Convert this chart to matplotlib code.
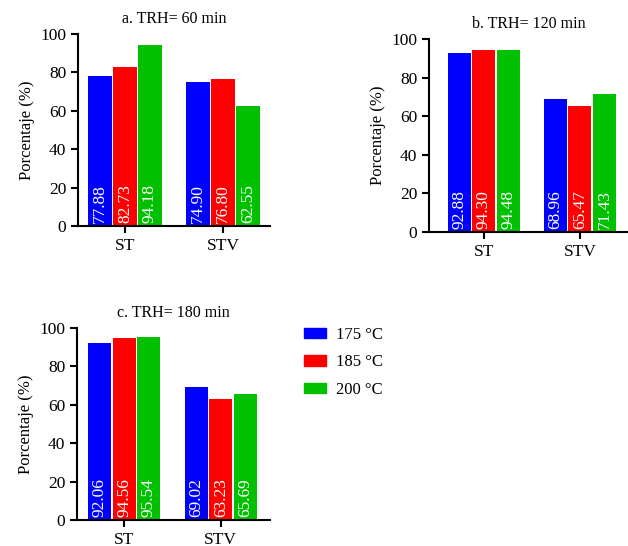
import matplotlib
matplotlib.use("Agg")
import matplotlib.pyplot as plt
import numpy as np
from matplotlib.patches import Patch

plt.rcParams['font.family'] = ['Liberation Serif', 'DejaVu Serif']

categories = ["ST", "STV"]
temps = ["175 °C", "185 °C", "200 °C"]
colors = ["#0000FF", "#FF0000", "#00C000"]

# values per temperature (ST, STV)
vals_60 = [[77.88, 74.90], [82.73, 76.80], [94.18, 62.55]]
vals_120 = [[92.88, 68.96], [94.30, 65.47], [94.48, 71.43]]
vals_180 = [[92.06, 69.02], [94.56, 63.23], [95.54, 65.69]]

titles = ["a. TRH= 60 min", "b. TRH= 120 min", "c. TRH= 180 min"]

W, H = 628, 546
fig = plt.figure(figsize=(W / 100, H / 100), dpi=100)


def px_axes(x0, y_top, x1, y_bot):
    return fig.add_axes([x0 / W, 1 - y_bot / H, (x1 - x0) / W, (y_bot - y_top) / H])


def draw_panel(ax, data, title, xlim):
    x = np.arange(len(categories))
    offs = [-0.255, 0, 0.255]
    for i, vals in enumerate(data):
        ax.bar(x + offs[i], vals, width=0.24, color=colors[i], label=temps[i])
        for xi, v in zip(x + offs[i], vals):
            ax.text(xi, 1.5, f"{v:.2f}", rotation=90, ha="center", va="bottom",
                    color="white", fontsize=12.5)
    ax.set_ylim(0, 100)
    ax.set_xlim(*xlim)
    ax.set_yticks([0, 20, 40, 60, 80, 100])
    ax.set_xticks(x)
    ax.set_xticklabels(categories)
    ax.tick_params(labelsize=12.5, width=1.5, length=5, direction="out")
    ax.tick_params(axis="x", pad=4)
    for s in ["top", "right"]:
        ax.spines[s].set_visible(False)
    for s in ["left", "bottom"]:
        ax.spines[s].set_linewidth(1.5)
    ax.set_ylabel("Porcentaje (%)", fontsize=12, labelpad=4)
    ax.set_title(title, fontsize=11.5, pad=8)


axa = px_axes(78, 34, 270, 226)
draw_panel(axa, vals_60, titles[0], (-0.48, 1.48))

axb = px_axes(429, 39, 628, 232)
draw_panel(axb, vals_120, titles[1], (-0.57, 1.5))

axc = px_axes(77, 328, 270, 520)
draw_panel(axc, vals_180, titles[2], (-0.49, 1.51))

handles = [Patch(color=c) for c in colors]
fig.legend(handles, temps, loc="upper left", bbox_to_anchor=(304 / W, 1 - 327 / H),
           frameon=False, fontsize=12, handlelength=1.3, handleheight=0.6,
           labelspacing=0.68, handletextpad=0.6, borderpad=0, borderaxespad=0)

plt.savefig("out.png", dpi=100)
